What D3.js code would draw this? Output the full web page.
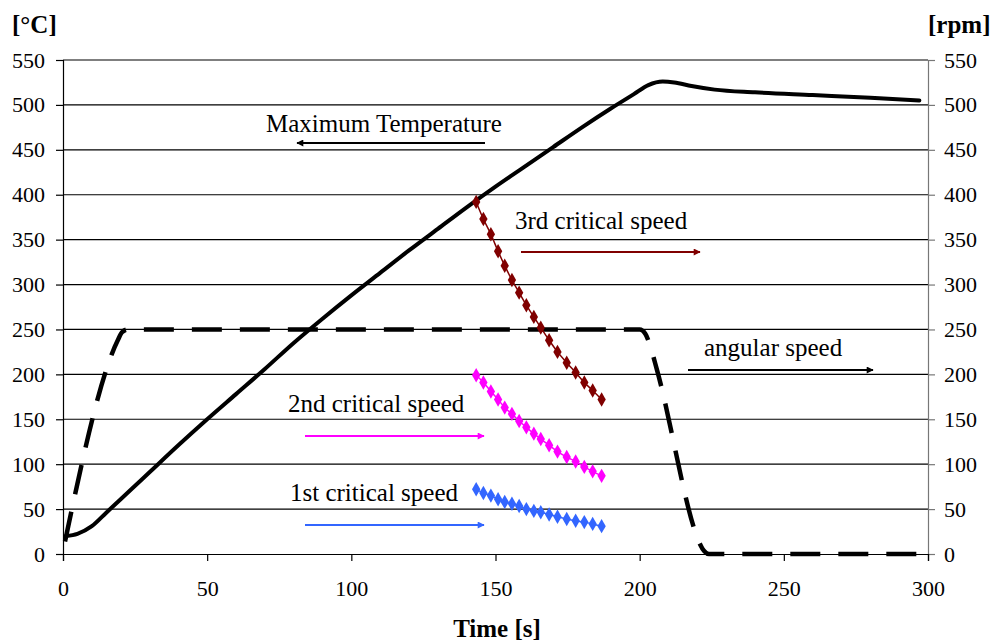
<!DOCTYPE html>
<html><head><meta charset="utf-8">
<script src="https://cdn.jsdelivr.net/npm/d3@7/dist/d3.min.js"></script>
<style>body{margin:0;background:#fff}svg{display:block}svg text{font-family:"Liberation Serif","Times New Roman",serif}</style>
</head><body><svg id="c" width="991" height="643"></svg>
<script>
// Data
const yTicks = [0,50,100,150,200,250,300,350,400,450,500,550];
const xTicks = [0,50,100,150,200,250,300];
const tempT = [1,5,10,15,20,25,30,40,50,60,70,80,90,100,110,120,130,140,150,160,170,180,190,198,203,208,212,218,226,240,260,280,297];
const tempV = [20,22.5,31,46,61,76,91,121,150,178,206,235,262,288,313,338,362,386,409,431,453,475,496,512,522,526,525,521,517,514,511,508,505];
const speedT = [0.7,19,20.5,22.5,200,202,204,206,224,300];
const speedV = [14,238,247,250,250,245,228,205,0,0];
const critT = [143.3,145.8,148.4,150.9,153.2,155.7,158.2,160.7,163.3,165.7,168.6,171.5,174.7,177.8,180.8,183.7,186.8];
const crit3 = [392,373,356,337,321,305,291,277,264,252,238,225,213,202,191,182,172];
const crit2 = [199,191,181,172,163,156,148,141,134,128,121,114,108,103,97,92,87];
const crit1 = [72,68,65,61,58,56,53.5,50,48,46.5,44,41.5,39,37,35.5,33.5,31];

const svg = d3.select("#c");
const L=63, R=928, T=60, B=554;
const x = d3.scaleLinear().domain([0,300]).range([L,R]);
const y = d3.scaleLinear().domain([0,550]).range([B,T]);
const FONT = "'Liberation Serif', 'Times New Roman', serif";

// grid
svg.append("g").selectAll("line").data(yTicks.filter(d=>d>0)).join("line")
  .attr("x1",L).attr("x2",R).attr("y1",d=>y(d)).attr("y2",d=>y(d))
  .attr("stroke","#000").attr("stroke-width",1.2);

// axes
const gl = svg.append("g").attr("transform",`translate(${L},0)`)
  .call(d3.axisLeft(y).tickValues(yTicks).tickSize(7).tickPadding(11));
const gr = svg.append("g").attr("transform",`translate(${R},0)`)
  .call(d3.axisRight(y).tickValues(yTicks).tickSize(7).tickPadding(9));
const gb = svg.append("g").attr("transform",`translate(0,${B})`)
  .call(d3.axisBottom(x).tickValues(xTicks).tickSize(7).tickPadding(19));
[gl,gr,gb].forEach(g=>{
  g.attr("font-family",null).attr("font-size",null);
  g.selectAll("text").attr("fill","#000").style("font-family",FONT).style("font-size","22px");
  g.selectAll("line").attr("stroke","#000").attr("stroke-width",1.2);
  g.select(".domain").attr("stroke","#000").attr("stroke-width",1.2);
});
gr.select(".domain").attr("stroke","#777");
gr.selectAll("line").attr("stroke","#777");

const line = d3.line().x(d=>x(d[0])).y(d=>y(d[1])).curve(d3.curveMonotoneX);

// angular speed dashed
svg.append("path").datum(speedT.map((t,i)=>[t,speedV[i]]))
  .attr("d",line).attr("fill","none").attr("stroke","#000")
  .attr("stroke-width",4.5).attr("stroke-dasharray","30,18");

// temperature
svg.append("path").datum(tempT.map((t,i)=>[t,tempV[i]]))
  .attr("d",line).attr("fill","none").attr("stroke","#000")
  .attr("stroke-width",4).attr("stroke-linejoin","round").attr("stroke-linecap","round");

// critical speeds
const crits = [[crit3,"#800000"],[crit2,"#FF00FF"],[crit1,"#3366FF"]];
const diamond = d3.symbol().type(d3.symbolDiamond).size(60);
crits.forEach(([vals,col])=>{
  const pts = critT.map((t,i)=>[t,vals[i]]);
  svg.append("path").datum(pts).attr("d",line)
    .attr("fill","none").attr("stroke",col).attr("stroke-width",1.5);
  svg.append("g").selectAll("path").data(pts).join("path")
    .attr("transform",d=>`translate(${x(d[0])},${y(d[1])})`)
    .attr("d",diamond).attr("fill",col);
});

// arrow markers
const defs = svg.append("defs");
function marker(id,col){
  defs.append("marker").attr("id",id).attr("viewBox","0 0 10 10").attr("refX",9).attr("refY",5)
    .attr("markerWidth",14).attr("markerHeight",7).attr("markerUnits","userSpaceOnUse").attr("orient","auto")
    .append("path").attr("d","M0,0L10,5L0,10z").attr("fill",col);
}
marker("aBlack","#000");marker("aRed","#800000");marker("aMag","#FF00FF");marker("aBlue","#3366FF");

function annot(txt,tx,ty,x1,x2,ay,col,mid){
  svg.append("text").attr("x",tx).attr("y",ty).attr("font-size",25).text(txt);
  svg.append("line").attr("x1",x1).attr("x2",x2).attr("y1",ay).attr("y2",ay)
    .attr("stroke",col).attr("stroke-width",1.8).attr("marker-end",`url(#${mid})`);
}
annot("Maximum Temperature",266,132,485,297,143,"#000","aBlack");
annot("3rd critical speed",515,229,521,700,252,"#800000","aRed");
annot("angular speed",704,356,688,873,370,"#000","aBlack");
annot("2nd critical speed",288,412,305,484,436,"#FF00FF","aMag");
annot("1st critical speed",290,501,305,484,525,"#3366FF","aBlue");

// axis titles
svg.append("text").attr("x",12).attr("y",33).attr("font-size",25).attr("font-weight","bold").text("[°C]");
svg.append("text").attr("x",928).attr("y",33).attr("font-size",25).attr("font-weight","bold").text("[rpm]");
svg.append("text").attr("x",497).attr("y",637).attr("font-size",25).attr("font-weight","bold").attr("text-anchor","middle").text("Time [s]");
</script></body></html>
